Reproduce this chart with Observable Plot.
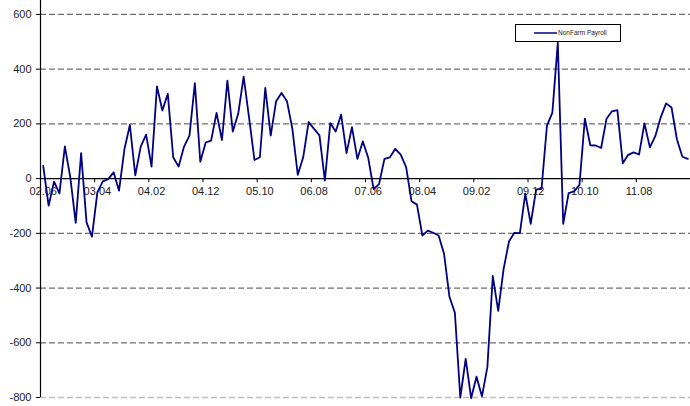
<!DOCTYPE html>
<html>
<head>
<meta charset="utf-8">
<script src="https://cdn.jsdelivr.net/npm/d3@7"></script>
<script src="https://cdn.jsdelivr.net/npm/@observablehq/plot@0.6"></script>
<style>
  html, body { margin: 0; padding: 0; background: #fff; }
  #wrap { position: relative; width: 690px; height: 406px; overflow: hidden; }
  #legend { position: absolute; left: 0; top: 0; pointer-events: none; }
</style>
</head>
<body>
<div id="wrap"></div>
<script>
// Monthly NonFarm Payroll change (thousands), 2002.06 – 2012.05
const payroll = [
  47, -99, -11, -54, 118, 5, -162, 93, -160, -212,
  -50, -10, -2, 23, -44, 108, 196, 12, 117, 161,
  44, 337, 249, 310, 78, 44, 117, 157, 349, 62,
  132, 139, 240, 141, 358, 172, 237, 373, 224, 68,
  78, 332, 157, 283, 313, 283, 182, 14, 78, 207,
  182, 158, -7, 203, 172, 234, 93, 188, 72, 136,
  76, -38, -20, 72, 78, 109, 88, 42, -83, -95,
  -208, -190, -198, -208, -275, -432, -490, -800, -659, -802,
  -724, -796, -689, -356, -483, -330, -229, -198, -199, -55,
  -165, -40, -37, 194, 241, 497, -165, -53, -47, -23,
  219, 122, 121, 112, 219, 246, 250, 56, 87, 96,
  88, 202, 114, 155, 224, 275, 260, 143, 80, 72
];
const xLabels = ["02.06", "03.04", "04.02", "04.12", "05.10", "06.08", "07.06", "08.04", "09.02", "09.12", "10.10", "11.08"];
const xLabelIndex = [0, 10, 20, 30, 40, 50, 60, 70, 80, 90, 100, 110];
const yTicks = [-800, -600, -400, -200, 0, 200, 400, 600];
const gridDark = [-600, -400, -200, 200, 400, 600];
const gridLight = [-800];
const seriesName = "NonFarm Payroll";

const data = payroll.map((v, i) => ({i, v}));
const labelData = xLabelIndex.map((i, k) => ({i, t: xLabels[k]}));
const tickBounds = xLabelIndex.map(i => i - 0.5).concat([119.5]);

const font = "'Liberation Sans', Arial, sans-serif";

const chart = Plot.plot({
  width: 690,
  height: 406,
  marginTop: 0,
  marginBottom: 9,
  marginLeft: 40,
  marginRight: 0,
  style: {fontFamily: font, fontSize: "11px", color: "#222", background: "#fff"},
  x: {domain: [-0.5, 119.5], axis: null},
  y: {domain: [-800, 651], axis: null},
  marks: [
    Plot.ruleY(gridDark, {stroke: "#6e6e6e", strokeWidth: 1.3, strokeDasharray: "6,3"}),
    Plot.ruleY(gridLight, {stroke: "#bdbdbd", strokeWidth: 1.3, strokeDasharray: "6,3"}),
    Plot.axisY({ticks: yTicks, label: null, tickSize: 4, tickPadding: 5, fontSize: 11, fill: "#222", stroke: "#000", tickFormat: d => String(d)}),
    Plot.ruleY([0], {stroke: "#000", strokeWidth: 1.2}),
    Plot.ruleX([-0.5], {y1: -800, y2: 651, stroke: "#000", strokeWidth: 1.2}),
    Plot.ruleX(tickBounds, {y1: 0, y2: -15, stroke: "#000", strokeWidth: 1}),
    Plot.text(labelData, {x: "i", y: 0, text: "t", dy: 13, fontSize: 11, fill: "#222", textAnchor: "middle"}),
    Plot.lineY(data, {x: "i", y: "v", stroke: "#000080", strokeWidth: 1.8, clip: false})
  ]
});
const wrap = document.getElementById("wrap");
wrap.appendChild(chart);

// Legend box overlay
const ns = "http://www.w3.org/2000/svg";
const lg = document.createElementNS(ns, "svg");
lg.setAttribute("id", "legend");
lg.setAttribute("width", 690);
lg.setAttribute("height", 406);
const rect = document.createElementNS(ns, "rect");
rect.setAttribute("x", 515.5); rect.setAttribute("y", 24.5);
rect.setAttribute("width", 105); rect.setAttribute("height", 17);
rect.setAttribute("fill", "#fff"); rect.setAttribute("stroke", "#000"); rect.setAttribute("stroke-width", 1);
lg.appendChild(rect);
const ln = document.createElementNS(ns, "line");
ln.setAttribute("x1", 534); ln.setAttribute("x2", 557);
ln.setAttribute("y1", 33); ln.setAttribute("y2", 33);
ln.setAttribute("stroke", "#000080"); ln.setAttribute("stroke-width", 1.5);
lg.appendChild(ln);
const tx = document.createElementNS(ns, "text");
tx.setAttribute("x", 558); tx.setAttribute("y", 35.3);
tx.setAttribute("font-size", "6.5px");
tx.setAttribute("font-family", font);
tx.setAttribute("fill", "#222");
tx.textContent = seriesName;
lg.appendChild(tx);
wrap.appendChild(lg);
</script>
</body>
</html>
